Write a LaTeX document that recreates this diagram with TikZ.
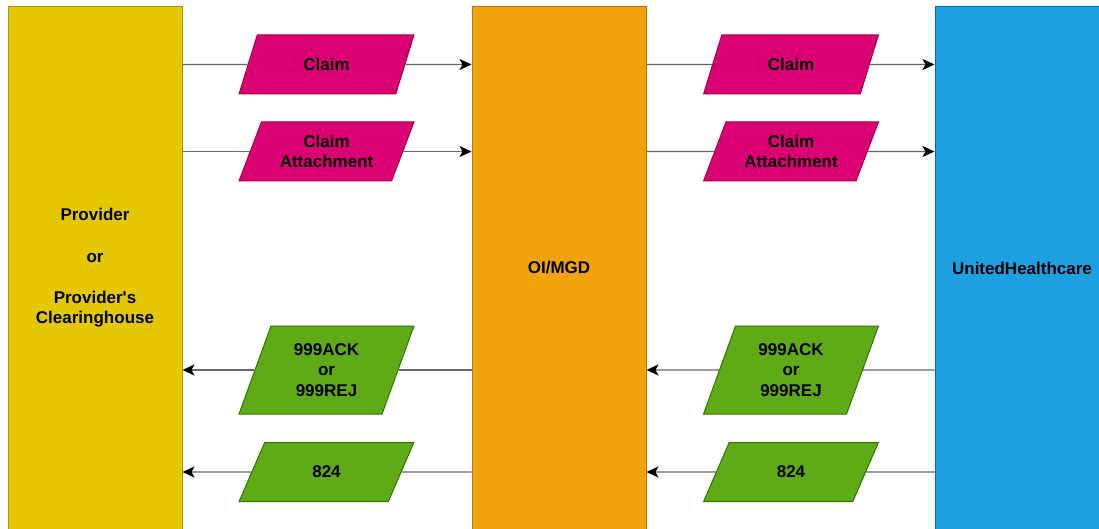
\documentclass[tikz,border=0pt]{standalone}
\usepackage{fontspec}
\setmainfont{Liberation Sans}
\usetikzlibrary{positioning,arrows.meta,shapes.geometric}
\definecolor{provfill}{HTML}{E3C800}
\definecolor{provline}{HTML}{B09500}
\definecolor{oifill}{HTML}{F0A30A}
\definecolor{oiline}{HTML}{BD7000}
\definecolor{uhcfill}{HTML}{1BA1E2}
\definecolor{uhcline}{HTML}{006EAF}
\definecolor{claimfill}{HTML}{D80073}
\definecolor{claimline}{HTML}{A50040}
\definecolor{ackfill}{HTML}{60A917}
\definecolor{ackline}{HTML}{2D7600}
\tikzset{
  party/.style={rectangle, draw, line width=1pt, minimum width=174pt,
                minimum height=522pt, inner sep=0pt, align=center},
  msg/.style={trapezium, trapezium left angle=64, trapezium right angle=116,
              trapezium stretches, draw, line width=1pt, minimum width=175pt,
              minimum height=59pt, inner sep=0pt, align=center},
  msgin/.style={msg, fill=claimfill, draw=claimline},
  msgout/.style={msg, fill=ackfill, draw=ackline},
  link/.style={draw=black!60, line width=1.2pt},
  flow/.style={link, -{Stealth[length=12pt, width=11pt, inset=3pt, black]}},
}
\begin{document}
\begin{tikzpicture}[x=1pt, y=-1pt, font=\bfseries\fontsize{17}{20.6}\selectfont]
  \useasboundingbox (0,0) rectangle (1099,529);
  \clip (0,0) rectangle (1099,529);
  % the three parties
  \node[party, fill=provfill, draw=provline] (prov) at (95,268)
       {Provider\\[20.6pt]or\\[20.6pt]Provider\textquotesingle s\\Clearinghouse};
  \node[party, fill=oifill, draw=oiline] (oi) at (559,268) {OI/MGD};
  \node[party, fill=uhcfill, draw=uhcline] (uhc) at (1022,268) {UnitedHealthcare};
  % outbound messages
  \node[msgin] (claimA) at (326.5,64.5) {Claim};
  \node[msgin] (attA) at (326.5,151.5) {Claim\\Attachment};
  \node[msgin] (claimB) at (791,64.5) {Claim};
  \node[msgin] (attB) at (791,151.5) {Claim\\Attachment};
  % returned messages
  \node[msgout, minimum height=88pt, trapezium left angle=70.6,
        trapezium right angle=109.4] (ackA) at (326.5,370) {999ACK\\or\\999REJ};
  \node[msgout] (rptA) at (326.5,472) {824};
  \node[msgout, minimum height=88pt, trapezium left angle=70.6,
        trapezium right angle=109.4] (ackB) at (791,370) {999ACK\\or\\999REJ};
  \node[msgout] (rptB) at (791,472) {824};
  % provider -> OI/MGD
  \draw[link] (prov.east |- claimA) -- (claimA);
  \draw[flow] (claimA) -- (oi.west |- claimA);
  \draw[link] (prov.east |- attA) -- (attA);
  \draw[flow] (attA) -- (oi.west |- attA);
  % OI/MGD -> UnitedHealthcare
  \draw[link] (oi.east |- claimB) -- (claimB);
  \draw[flow] (claimB) -- (uhc.west |- claimB);
  \draw[link] (oi.east |- attB) -- (attB);
  \draw[flow] (attB) -- (uhc.west |- attB);
  % responses back to provider
  \draw[link] (oi.west |- ackA) -- (ackA);
  \draw[flow] (ackA) -- (prov.east |- ackA);
  \draw[link] (oi.west |- rptA) -- (rptA);
  \draw[flow] (rptA) -- (prov.east |- rptA);
  % responses back to OI/MGD
  \draw[link] (uhc.west |- ackB) -- (ackB);
  \draw[flow] (ackB) -- (oi.east |- ackB);
  \draw[link] (uhc.west |- rptB) -- (rptB);
  \draw[flow] (rptB) -- (oi.east |- rptB);
\end{tikzpicture}
\end{document}
